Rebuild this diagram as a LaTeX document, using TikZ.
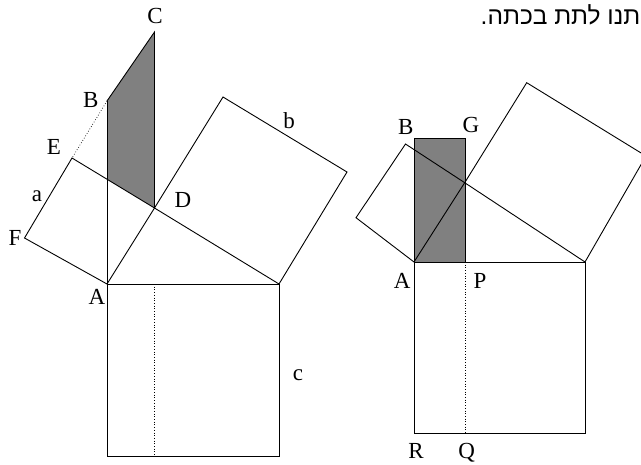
\documentclass[tikz,border=0pt]{standalone}
\usepackage{fontspec}
\setmainfont{Liberation Serif}
\newfontfamily\hebfont[Script=Hebrew]{Liberation Sans}
\TeXXeTstate=1
\begin{document}
\begin{tikzpicture}[x=1pt,y=-1pt,
  edge/.style={line width=0.9pt, line join=miter},
  dotline/.style={line width=0.7pt, dotted},
  shade/.style={fill=black!50, draw, line width=0.9pt},
  lbl/.style={anchor=base, inner sep=0pt, font=\fontsize{23}{26}\selectfont}]
\useasboundingbox (0,0) rectangle (641,464);
\clip (0,0) rectangle (641,464);
% ---------- left figure ----------
\coordinate (A) at (107,284);
\coordinate (D) at (154.5,208);
\coordinate (H) at (279,284);
\coordinate (K) at (279,456);
\coordinate (L) at (107,456);
\coordinate (M) at (154.5,284);
\coordinate (N) at (154.5,456);
\coordinate (F) at (24.5,238);
\coordinate (E) at (72,158);
\coordinate (B) at (107,101);
\coordinate (C) at (154.5,32);
\coordinate (X) at (107,179.2);
\coordinate (T) at (223,97);
\coordinate (U) at (347,172);
\fill[black!50] (B) -- (C) -- (D) -- (X) -- cycle;
\draw[edge] (B) -- (C) -- (D);
\draw[edge] (A) -- (B);
\draw[edge] (A) -- (H) -- (K) -- (L) -- cycle;
\draw[dotline] (M) -- (N);
\draw[edge] (A) -- (D) -- (E) -- (F) -- cycle;
\draw[edge] (D) -- (H) -- (U) -- (T) -- cycle;
\draw[dotline] (B) -- (E);
\node[lbl] (lC) at (155,23) {C};
\node[lbl] (lB) at (90.7,107) {B};
\node[lbl] (lE) at (54,154.5) {E};
\node[lbl] (la) at (37,201.5) {a};
\node[lbl] (lF) at (15,245.5) {F};
\node[lbl] (lD) at (183,207.5) {D};
\node[lbl] (lb) at (289,128) {b};
\node[lbl] (lA) at (97,304) {A};
\node[lbl] (lc) at (298,380.5) {c};
% ---------- right figure ----------
\coordinate (A2) at (414,262);
\coordinate (D2) at (464.7,182.7);
\coordinate (H2) at (585,262);
\coordinate (K2) at (585,433.3);
\coordinate (R2) at (414,433.3);
\coordinate (P2) at (465,262);
\coordinate (Q2) at (465,433.3);
\coordinate (E2) at (405.5,144);
\coordinate (F2) at (356,217.7);
\coordinate (T2) at (526.7,82.7);
\coordinate (U2) at (646,156);
\coordinate (B2) at (414,138.3);
\coordinate (G2) at (464.7,138.3);
\draw[shade] (B2) rectangle (P2);
\draw[edge] (A2) -- (H2) -- (K2) -- (R2) -- cycle;
\draw[dotline] (P2) -- (Q2);
\draw[edge] (A2) -- (D2) -- (E2) -- (F2) -- cycle;
\draw[edge] (D2) -- (H2) -- (U2) -- (T2) -- cycle;
\node[lbl] (rB) at (405.7,134) {B};
\node[lbl] (rG) at (471,132.3) {G};
\node[lbl] (rA) at (402.3,288.3) {A};
\node[lbl] (rP) at (480,288.3) {P};
\node[lbl] (rR) at (416,458) {R};
\node[lbl] (rQ) at (466.7,458) {Q};
% ---------- Hebrew text ----------
\node[anchor=base east, inner sep=0pt, font=\fontsize{24.5}{28}\selectfont\hebfont] (heb) at (640.5,24) {\beginR תנו לתת בכתה.\endR};
\end{tikzpicture}
\end{document}
